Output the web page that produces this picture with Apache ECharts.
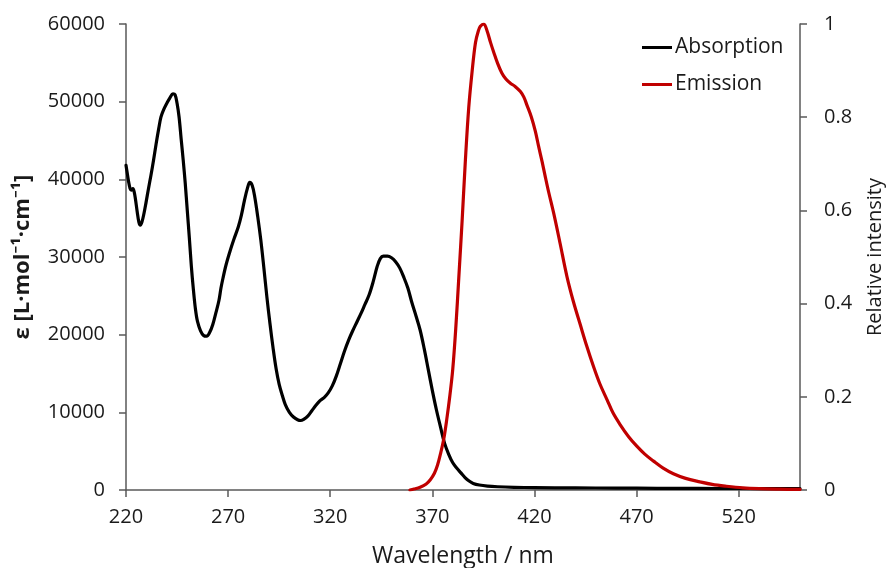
<!DOCTYPE html>
<html>
<head>
<meta charset="utf-8">
<script src="https://cdn.jsdelivr.net/npm/echarts@6/dist/echarts.min.js"></script>
<style>
  html, body { margin: 0; padding: 0; background: #fff; }
  #chart { width: 887px; height: 568px; }
</style>
</head>
<body>
<div id="chart"></div>
<script>
// Absorption spectrum: wavelength (nm) and molar absorption coefficient (L·mol⁻¹·cm⁻¹)
const absWavelength = [
  220, 220.6, 221.2, 222, 222.6, 223.4, 224, 224.6, 225.5, 226.3, 227, 227.8, 228.8, 229.8,
  231, 232.2, 233.5, 234.7, 236, 237.1, 238.5, 240, 241.5, 243, 244, 245, 246, 247, 248, 249,
  250, 251, 252, 253, 254, 255, 256.5, 258, 259.5, 261, 262.5, 264, 265.5, 266.5, 267.5, 269,
  271, 273, 275, 276.5, 278, 279.5, 280.6, 281.8, 283, 284.5, 286, 287.5, 289, 290.5, 292,
  293.5, 295, 296.5, 298, 300, 302, 304, 305.5, 307, 309, 311, 313, 315, 317, 319, 321, 323,
  325, 327, 329, 331, 333, 335, 337, 339, 341, 343, 344.5, 346, 348, 350, 352, 354, 356, 358,
  360, 362, 364, 366, 368, 370, 372, 374, 376, 378, 380, 382, 384, 386, 388, 390, 393, 397,
  402, 410, 420, 440, 460, 480, 500, 520, 550
];
const absValues = [
  41800, 40800, 39800, 38800, 38600, 38800, 38400, 37500, 35800, 34500, 34100, 34500, 35600, 37000,
  38800, 40500, 42500, 44500, 46500, 48000, 49000, 49800, 50500, 51000, 50900, 49800, 48000, 45200, 42500, 39500,
  36000, 32500, 28800, 25800, 23300, 21700, 20500, 19900, 19800, 20300, 21300, 22800, 24400, 26000, 27300, 29000,
  30800, 32400, 33900, 35400, 37300, 38900, 39600, 39200, 37800, 35200, 32200, 28600, 24800, 21400, 18300,
  15600, 13600, 12200, 11000, 10000, 9400, 9050, 8950, 9100, 9500, 10200, 10900, 11500, 11900, 12500, 13400, 14700,
  16300, 17900, 19300, 20500, 21600, 22700, 23900, 25100, 26800, 28800, 29800, 30100, 30100, 29900, 29400, 28600, 27400, 26000,
  24100, 22400, 20600, 18200, 15500, 12800, 10300, 8100, 6000, 4600, 3500, 2800, 2200, 1600, 1150, 850, 640, 500,
  420, 350, 300, 270, 240, 220, 200, 190, 180
];

// Emission spectrum: wavelength (nm) and normalised intensity
const emWavelength = [
  359, 361, 364, 367, 369, 371, 372.5, 374, 375.6, 377, 378.5, 380, 381.5, 383, 384.6, 386.2,
  387.8, 389.5, 391.1, 392.5, 393.5, 395.2, 396.8, 398.5, 400, 402, 404, 406, 408.2, 410.5,
  413.1, 414.8, 416.3, 418.5, 420.4, 422, 423.7, 425.3, 426.9, 429.4, 432.5, 435.9, 439, 442.4,
  445.5, 448.9, 452, 455.5, 458.5, 462, 466, 470.1, 474, 478.3, 483, 488, 494, 501, 507, 514,
  522, 530, 540, 550
];
const emValues = [
  0, 0.002, 0.006, 0.013, 0.022, 0.036, 0.053, 0.078, 0.11, 0.15, 0.2, 0.26, 0.35, 0.46, 0.58, 0.71,
  0.82, 0.9, 0.96, 0.985, 0.995, 1.0, 0.985, 0.96, 0.94, 0.915, 0.895, 0.882, 0.873, 0.866,
  0.855, 0.843, 0.826, 0.8, 0.77, 0.738, 0.705, 0.672, 0.64, 0.594, 0.53, 0.458, 0.405, 0.355,
  0.31, 0.265, 0.228, 0.194, 0.165, 0.14, 0.115, 0.094, 0.077, 0.062, 0.047, 0.035, 0.025, 0.0175, 0.012, 0.008,
  0.0045, 0.0028, 0.0018, 0.0012
];

// Axis ranges / tick settings
const xRange = [220, 550];
const xStep = 50;
const leftRange = [0, 60000];
const leftStep = 10000;
const rightRange = [0, 1];
const rightStep = 0.2;

const FONT = '"Open Sans", "Noto Sans", sans-serif';
const TEXT = '#1a1a1a';
const AXIS = '#595959';

const zip = (xs, ys) => xs.map((x, i) => [x, ys[i]]);

const chart = echarts.init(document.getElementById('chart'), null, { renderer: 'canvas' });

const axisCommon = {
  axisLine: { show: true, lineStyle: { color: AXIS, width: 1.5 } },
  axisTick: { show: true, inside: false, length: 7, lineStyle: { color: AXIS, width: 1.5 } },
  splitLine: { show: false },
  nameTextStyle: { color: TEXT, fontFamily: FONT, fontSize: 20 },
  axisLabel: { color: TEXT, fontFamily: FONT, fontSize: 20, formatter: (v) => String(v) }
};

chart.setOption({
  animation: false,
  backgroundColor: '#ffffff',
  grid: { left: 126, right: 87, top: 24, bottom: 78, containLabel: false, outerBoundsMode: 'none' },
  legend: {
    orient: 'vertical',
    left: 637,
    top: 32,
    icon: 'rect',
    itemWidth: 30,
    itemHeight: 3,
    itemGap: 16,
    textStyle: { color: TEXT, fontFamily: FONT, fontSize: 21, lineHeight: 21, padding: [0, 0, 0, -2] },
    data: ['Absorption', 'Emission']
  },
  xAxis: {
    type: 'value',
    min: xRange[0],
    max: xRange[1],
    interval: xStep,
    name: 'Wavelength / nm',
    nameLocation: 'middle',
    nameGap: 55,
    ...axisCommon,
    nameTextStyle: { ...axisCommon.nameTextStyle, fontSize: 23 },
    axisLabel: { ...axisCommon.axisLabel, margin: 17, showMaxLabel: false }
  },
  yAxis: [
    {
      type: 'value',
      position: 'left',
      min: leftRange[0],
      max: leftRange[1],
      interval: leftStep,
      name: 'ε [L·mol⁻¹·cm⁻¹]',
      nameLocation: 'middle',
      nameGap: 92,
      nameRotate: 90,
      ...axisCommon,
      nameTextStyle: { ...axisCommon.nameTextStyle, fontWeight: 'bold', fontSize: 22 },
      axisLabel: { ...axisCommon.axisLabel, margin: 21 }
    },
    {
      type: 'value',
      position: 'right',
      min: rightRange[0],
      max: rightRange[1],
      interval: rightStep,
      name: 'Relative intensity',
      nameLocation: 'middle',
      nameGap: 65,
      nameRotate: 90,
      ...axisCommon,
      axisLabel: { ...axisCommon.axisLabel, margin: 24 }
    }
  ],
  series: [
    {
      name: 'Absorption',
      type: 'line',
      yAxisIndex: 0,
      data: zip(absWavelength, absValues),
      showSymbol: false,
      smooth: 0.35,
      lineStyle: { color: '#000000', width: 3.2, join: 'round', cap: 'round' },
      itemStyle: { color: '#000000' },
      z: 2
    },
    {
      name: 'Emission',
      type: 'line',
      yAxisIndex: 1,
      data: zip(emWavelength, emValues),
      showSymbol: false,
      smooth: 0.35,
      lineStyle: { color: '#c00000', width: 3.2, join: 'round', cap: 'round' },
      itemStyle: { color: '#c00000' },
      z: 3
    }
  ]
});
</script>
</body>
</html>
